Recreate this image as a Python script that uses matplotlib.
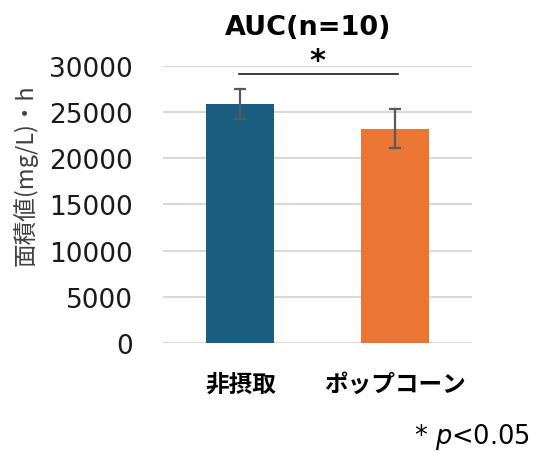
import matplotlib.pyplot as plt

plt.rcParams['font.family'] = ['DejaVu Sans', 'Noto Sans CJK JP']

groups = ['非摂取', 'ポップコーン']
auc_mean = [25900, 23200]
auc_sd = [1600, 2100]
bar_colors = ['#1B5E82', '#EA7535']

fig = plt.figure(figsize=(5.33, 4.52), dpi=100)
ax = fig.add_axes([0.306, 0.239, 0.580, 0.613])

x = range(len(groups))
ax.bar(x, auc_mean, width=0.44, color=bar_colors, zorder=2)
ax.errorbar(x, auc_mean, yerr=auc_sd, fmt='none', ecolor='#595959',
            elinewidth=1.6, capsize=4.5, capthick=1.6, zorder=3)

ax.set_xlim(-0.5, 1.5)
ax.set_ylim(0, 30000)
ax.set_yticks(range(0, 30001, 5000))
ax.yaxis.grid(True, color='#D9D9D9', linewidth=1.5, zorder=0)
ax.set_axisbelow(True)
for s in ax.spines.values():
    s.set_visible(False)
ax.tick_params(axis='y', length=0, pad=22, labelsize=19, labelcolor='#1a1a1a')
ax.tick_params(axis='x', length=0, pad=21)
ax.set_xticks(list(x))
ax.set_xticklabels(groups, fontsize=17, fontweight='bold',
                   family=['Noto Sans CJK JP'])

# y-axis title sits a little above the plot centre
fig.text(0.047, 0.613, '面積値(mg/L)・h', rotation=90, ha='center',
         va='center', fontsize=17, color='#404040',
         family=['Noto Sans CJK JP'])

# significance bar between the two groups
ax.plot([-0.01, 1.02], [29150, 29150], color='#1a1a1a', lw=1.2,
        clip_on=False, zorder=4)
ax.text(0.5, 29000, '*', ha='center', va='bottom', fontsize=22,
        fontweight='bold', clip_on=False)

fig.text(0.578, 0.938, 'AUC(n=10)', ha='center', va='center',
         fontsize=19.5, fontweight='bold')
fig.text(0.995, 0.033, r'* $\mathit{p}$<0.05', ha='right', va='center',
         fontsize=18.5)

fig.savefig('out.png', dpi=100)
